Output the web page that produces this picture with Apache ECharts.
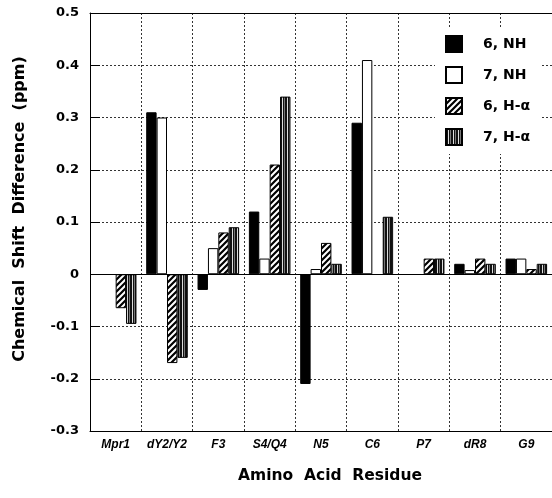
<!DOCTYPE html>
<html lang="en">
<head>
<meta charset="UTF-8">
<script src="https://cdn.jsdelivr.net/npm/echarts@6.0.0/dist/echarts.min.js"></script>
<title>Chemical Shift Difference</title>
<style>
  html, body { margin: 0; padding: 0; background: #fff; }
  #main { width: 552px; height: 498px; }
</style>
</head>
<body>
<div id="main"></div>
<script>
  // residues along the x axis
  var residues = ['Mpr1', 'dY2/Y2', 'F3', 'S4/Q4', 'N5', 'C6', 'P7', 'dR8', 'G9'];
  // chemical shift differences (ppm), null = no bar
  var nh6 = [null, 0.31, -0.03, 0.12, -0.21, 0.29, null, 0.02, 0.03];
  var nh7 = [null, 0.30, 0.05, 0.03, 0.01, 0.41, null, 0.008, 0.03];
  var ha6 = [-0.065, -0.17, 0.08, 0.21, 0.06, null, 0.03, 0.03, 0.01];
  var ha7 = [-0.095, -0.16, 0.09, 0.34, 0.02, 0.11, 0.03, 0.02, 0.02];
  var seriesNames = ['6, NH', '7, NH', '6, H-\u03b1', '7, H-\u03b1'];

  // diagonal hatch "///"
  function diagPattern() {
    var c = document.createElement('canvas');
    c.width = 6; c.height = 6;
    var ctx = c.getContext('2d');
    ctx.fillStyle = '#fff';
    ctx.fillRect(0, 0, 6, 6);
    ctx.strokeStyle = '#000';
    ctx.lineWidth = 2.2;
    ctx.beginPath();
    ctx.moveTo(-3, 3); ctx.lineTo(3, -3);
    ctx.moveTo(0, 6); ctx.lineTo(6, 0);
    ctx.moveTo(3, 9); ctx.lineTo(9, 3);
    ctx.stroke();
    return c;
  }
  // dark vertical stripes
  function vertPattern() {
    var c = document.createElement('canvas');
    c.width = 5; c.height = 4;
    var ctx = c.getContext('2d');
    ctx.fillStyle = '#111';
    ctx.fillRect(0, 0, 5, 4);
    ctx.fillStyle = '#ddd';
    ctx.fillRect(2, 0, 1, 4);
    ctx.fillStyle = '#777';
    ctx.fillRect(4, 0, 1, 4);
    return c;
  }

  var dotted = { color: '#333', type: [2, 2], width: 1 };
  var font = 'DejaVu Sans';

  var chart = echarts.init(document.getElementById('main'));

  function bar(name, data, color) {
    return {
      name: name,
      type: 'bar',
      data: data,
      barGap: '0%',
      barCategoryGap: '19%',
      itemStyle: { color: color, borderColor: '#000', borderWidth: 1 }
    };
  }

  var series = [
    bar(seriesNames[0], nh6, '#000'),
    bar(seriesNames[1], nh7, '#fff'),
    bar(seriesNames[2], ha6, { image: diagPattern(), repeat: 'repeat' }),
    bar(seriesNames[3], ha7, { image: vertPattern(), repeat: 'repeat' })
  ];
  // solid zero line
  series[0].markLine = {
    silent: true,
    symbol: ['none', 'none'],
    label: { show: false },
    lineStyle: { color: '#000', type: 'solid', width: 1 },
    data: [{ yAxis: 0 }]
  };

  chart.setOption({
    animation: false,
    backgroundColor: '#fff',
    grid: { left: 90, right: -7, top: 13, bottom: 67 },
    legend: {
      data: seriesNames,
      orient: 'vertical',
      left: 435,
      top: 27,
      padding: [8, 10],
      backgroundColor: '#fff',
      icon: 'rect',
      itemWidth: 16,
      itemHeight: 16,
      itemGap: 13,
      textStyle: { fontFamily: font, fontWeight: 'bold', fontSize: 14, color: '#000', padding: [0, 0, 0, 16] }
    },
    xAxis: [
      {
        type: 'category',
        data: residues,
        position: 'bottom',
        axisLine: { onZero: false, lineStyle: { color: '#000', width: 1 } },
        axisTick: { inside: true, length: 10, interval: 0, lineStyle: { color: '#000' } },
        axisLabel: { interval: 0, fontFamily: 'Liberation Sans', fontStyle: 'italic', fontWeight: 'bold', fontSize: 12, color: '#000', margin: 8 },
        splitLine: { show: true, interval: 0, lineStyle: dotted }
      },
      {
        type: 'category',
        data: residues,
        position: 'top',
        axisLine: { onZero: false, lineStyle: { color: '#000', width: 1 } },
        axisTick: { inside: true, length: 10, interval: 0, lineStyle: { color: '#000' } },
        axisLabel: { show: false },
        splitLine: { show: false }
      }
    ],
    yAxis: {
      type: 'value',
      min: -0.3,
      max: 0.5,
      interval: 0.1,
      axisLine: { show: true, lineStyle: { color: '#000', width: 1 } },
      axisTick: { show: true, inside: true, length: 10, lineStyle: { color: '#000' } },
      axisLabel: {
        fontFamily: font, fontWeight: 'bold', fontSize: 13, color: '#000', margin: 11,
        formatter: function (v) { return String(Math.round(v * 10) / 10); }
      },
      splitLine: { show: true, lineStyle: dotted }
    },
    graphic: [
      {
        type: 'text',
        x: 20, y: 209,
        rotation: Math.PI / 2,
        style: {
          text: 'Chemical  Shift  Difference  (ppm)',
          fontFamily: font, fontWeight: 'bold', fontSize: 16, fill: '#000',
          align: 'center', verticalAlign: 'middle'
        }
      },
      {
        type: 'text',
        x: 330, y: 476,
        style: {
          text: 'Amino  Acid  Residue',
          fontFamily: font, fontWeight: 'bold', fontSize: 15.5, fill: '#000',
          align: 'center', verticalAlign: 'middle'
        }
      }
    ],
    series: series
  });
</script>
</body>
</html>
